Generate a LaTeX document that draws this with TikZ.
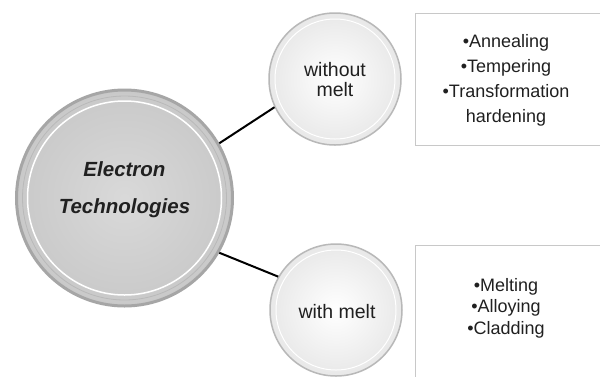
\documentclass[tikz,border=0pt]{standalone}
\usepackage{fontspec}
\setmainfont{Liberation Sans}
\usetikzlibrary{shadings}
\definecolor{rimgray}{HTML}{A6A6A6}
\definecolor{bigfill}{HTML}{C9C9C9}
\definecolor{boxline}{HTML}{C8C8C8}
\definecolor{txt}{HTML}{202020}
\tikzset{
  bigball/.style={circle, minimum size=216pt, inner sep=0pt, draw=rimgray, line width=3pt,
    inner color=bigfill!70!white, outer color=bigfill},
  smallball/.style={circle, minimum size=132pt, inner sep=0pt, draw=rimgray!80, line width=1.5pt,
    inner color=white, outer color=gray!18},
  conn/.style={line width=2pt, black},
  boxline/.style={draw=boxline, line width=1pt},
  listtext/.style={align=center, text=txt, font=\fontsize{18}{25}\selectfont},
  listtextb/.style={align=center, text=txt, font=\fontsize{18}{21.5}\selectfont},
  balltext/.style={align=center, text=txt, font=\fontsize{19.5}{20}\selectfont},
}
\begin{document}
\begin{tikzpicture}[x=1pt,y=-1pt]
\useasboundingbox[fill=white] (0,0) rectangle (600,376);
% boxes (open to the right / bottom, cut by the page edge)
\draw[boxline, fill=white] (604,13) -- (415,13) -- (415,145) -- (604,145);
\draw[boxline, fill=white] (604,245) -- (415,245) -- (415,380) ;
\draw[boxline] (415,245) -- (604,245);
% big circle
\node[bigball] (ET) at (124.5,198) {};
\draw[white, line width=1.5pt] (ET.center) circle (97pt);
\draw[gray!55, line width=0.8pt] (ET.center) circle (102pt);
\node[align=center, text=txt, font=\fontsize{20.5}{37}\selectfont\bfseries\itshape] (ETt) at (124.5,190) {Electron\\Technologies};
% small circles
\node[smallball] (WO) at (335,79) {};
\node[smallball] (WM) at (336,310) {};
\draw[white, line width=1pt] (WO.center) circle (60pt);
\draw[white, line width=1pt] (WM.center) circle (60pt);
\node[balltext] (WOt) at (335,80) {without\\melt};
\node[balltext] (WMt) at (337,312) {with melt};
% connectors
\draw[conn] (ET.30) -- (WO.205);
\draw[conn] (ET.-30) -- (WM.150);
% lists
\node[listtext] (L1) at (506,80) {•Annealing\\•Tempering\\•Transformation\\hardening};
\node[listtextb] (L2) at (506,308) {•Melting\\•Alloying\\•Cladding};
\end{tikzpicture}
\end{document}
